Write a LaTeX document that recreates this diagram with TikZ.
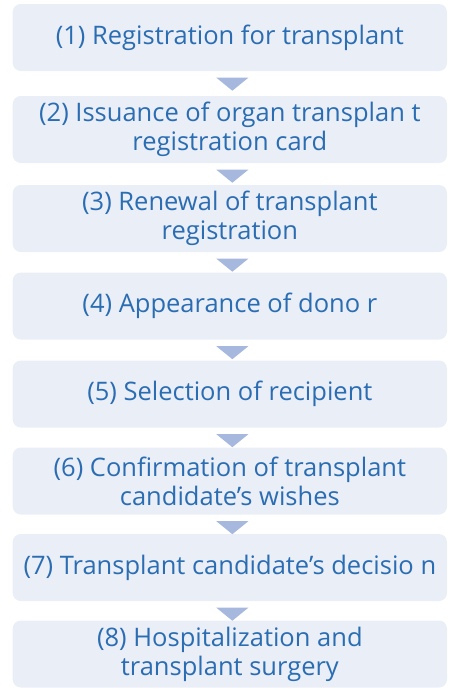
\documentclass[tikz,border=0pt]{standalone}
\usepackage{fontspec}
\setmainfont{Open Sans}
\usetikzlibrary{calc}
\definecolor{boxfill}{HTML}{EAEEF7}
\definecolor{trifill}{HTML}{A6B8DE}
\definecolor{txtblue}{HTML}{2A6DB2}
\tikzset{
  stepbox/.style={rectangle, rounded corners=8pt, fill=boxfill, draw=none,
    minimum width=434.3pt, minimum height=67pt, inner sep=0pt,
    align=center, text=txtblue, font=\fontsize{25.5}{29}\selectfont},
  tri/.style={fill=trifill, draw=none}
}
\newcommand{\downtri}[1]{%
  \fill[tri] ($(#1.south)+(-13.5pt,-6.5pt)$) -- ($(#1.south)+(18.5pt,-6.5pt)$) -- ($(#1.south)+(2.5pt,-19.5pt)$) -- cycle;}
\begin{document}
\begin{tikzpicture}[x=1pt,y=1pt]
\useasboundingbox (0,0) rectangle (453,-697);
\node[stepbox] (b1) at (229.85,-37.5) {(1) Registration for transplant};
\node[stepbox] (b2) at (229.85,-129.5) {(2) Issuance of organ transplan t\\registration card};
\node[stepbox] (b3) at (229.85,-218.5) {(3) Renewal of transplant\\registration};
\node[stepbox] (b4) at (229.85,-306) {(4) Appearance of dono r};
\node[stepbox] (b5) at (229.85,-394) {(5) Selection of recipient};
\node[stepbox] (b6) at (229.85,-481) {(6) Confirmation of transplant\\candidate’s wishes};
\node[stepbox] (b7) at (229.85,-567.5) {(7) Transplant candidate’s decisio n};
\node[stepbox] (b8) at (229.85,-654) {(8) Hospitalization and\\transplant surgery};
\downtri{b1}
\downtri{b2}
\downtri{b3}
\downtri{b4}
\downtri{b5}
\downtri{b6}
\downtri{b7}
\end{tikzpicture}
\end{document}
